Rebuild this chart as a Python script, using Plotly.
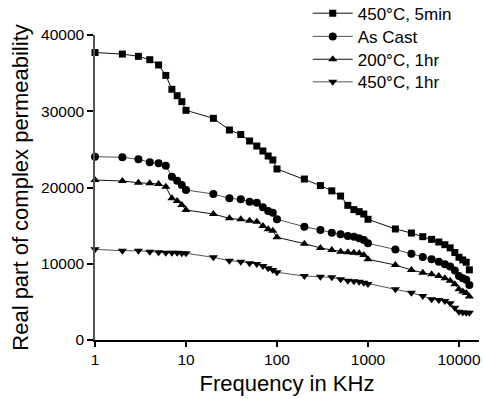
import plotly.graph_objects as go

freq = [1, 2, 3, 4, 5, 6, 7, 8, 9, 10,
        20, 30, 40, 50, 60, 70, 80, 90, 100,
        200, 300, 400, 500, 600, 700, 800, 900, 1000,
        2000, 3000, 4000, 5000, 6000, 7000, 8000, 9000, 10000,
        11000, 12000, 13000]

s_450_5min = [37700, 37500, 37200, 36760, 36070, 34700, 32880, 32040, 31260, 30120,
              29070, 27540, 26950, 26100, 25440, 24790, 24130, 23610, 22430,
              21110, 20250, 19560, 18880, 17660, 17100, 16830, 16520, 15830,
              14560, 14030, 13550, 13200, 12850, 12500, 12080, 11480, 10850,
              10500, 10200, 9200]

s_as_cast = [24040, 23960, 23700, 23300, 23170, 22860, 21420, 20900, 20330, 19670,
             19150, 18580, 18450, 18140, 18010, 17400, 16920, 16700, 15830,
             14860, 14430, 14070, 13860, 13640, 13550, 13340, 13110, 12680,
             11870, 11320, 10880, 10600, 10250, 9950, 9650, 9100, 8390,
             8100, 7900, 7200]

s_200_1hr = [20980, 20850, 20630, 20550, 20460, 20110, 18580, 18230, 17700, 17050,
             16520, 15960, 15830, 15650, 15520, 14950, 14520, 14340, 13470,
             12630, 12080, 11800, 11580, 11500, 11450, 11370, 11150, 10580,
             9840, 9180, 8830, 8620, 8390, 8090, 7780, 7300, 6650,
             6350, 6150, 5700]

s_450_1hr = [11890, 11710, 11710, 11580, 11500, 11450, 11450, 11450, 11370, 11370,
             10840, 10400, 10270, 10050, 9970, 9700, 9400, 9180, 8880,
             8390, 8300, 8220, 7960, 7780, 7690, 7650, 7520, 7340,
             6650, 6200, 5770, 5340, 5250, 5110, 4810, 4240, 3710,
             3600, 3580, 3580]

names = ["450°C, 5min", "As Cast", "200°C, 1hr", "450°C, 1hr"]
series = [s_450_5min, s_as_cast, s_200_1hr, s_450_1hr]
symbols = ["square", "circle", "triangle-up", "triangle-down"]
sizes = [7, 8, 8, 8]
line_colors = ["#111111", "#555555", "#111111", "#555555"]
legend_ids = ["legend", "legend2", "legend3", "legend4"]
legend_y = [1.070, 0.994, 0.919, 0.845]

x_ticks = [1, 10, 100, 1000, 10000]
y_ticks = [0, 10000, 20000, 30000, 40000]

fig = go.Figure()
for i, (nm, ys) in enumerate(zip(names, series)):
    fig.add_trace(go.Scatter(
        x=freq, y=ys, name=nm, mode="lines+markers",
        line=dict(color=line_colors[i], width=1),
        marker=dict(symbol=symbols[i], size=sizes[i], color="black",
                    line=dict(width=0)),
        cliponaxis=False, legend=legend_ids[i],
    ))

font = "Arial, Liberation Sans, sans-serif"
leg_common = dict(x=0.554, xanchor="left", yanchor="middle",
                  font=dict(size=17, family=font), bgcolor="rgba(0,0,0,0)",
                  itemwidth=40)
fig.update_layout(
    width=483, height=399,
    margin=dict(l=95, r=4, t=35, b=59, autoexpand=False),
    paper_bgcolor="white", plot_bgcolor="white",
    font=dict(family=font, color="black", size=15),
    showlegend=True,
    legend=dict(y=legend_y[0], **leg_common),
    legend2=dict(y=legend_y[1], **leg_common),
    legend3=dict(y=legend_y[2], **leg_common),
    legend4=dict(y=legend_y[3], **leg_common),
    xaxis=dict(type="log", range=[0, 4.22], tickvals=x_ticks,
               ticktext=[str(v) for v in x_ticks],
               showgrid=False, zeroline=False, showline=True,
               linecolor="black", linewidth=1.5,
               ticks="outside", ticklen=5, tickwidth=1.5, tickcolor="black",
               tickfont=dict(size=15.5),
               title=dict(text="Frequency in KHz", font=dict(size=22), standoff=8)),
    yaxis=dict(range=[0, 40000], tickvals=y_ticks,
               ticktext=[str(v) for v in y_ticks],
               showgrid=False, zeroline=False, showline=True,
               linecolor="#555555", linewidth=1.5,
               ticks="outside", ticklen=6, tickwidth=1.5, tickcolor="black",
               tickfont=dict(size=15.5),
               title=dict(text="Real part of complex permeability", font=dict(size=22), standoff=6)),
)

fig.write_html("out.html")
